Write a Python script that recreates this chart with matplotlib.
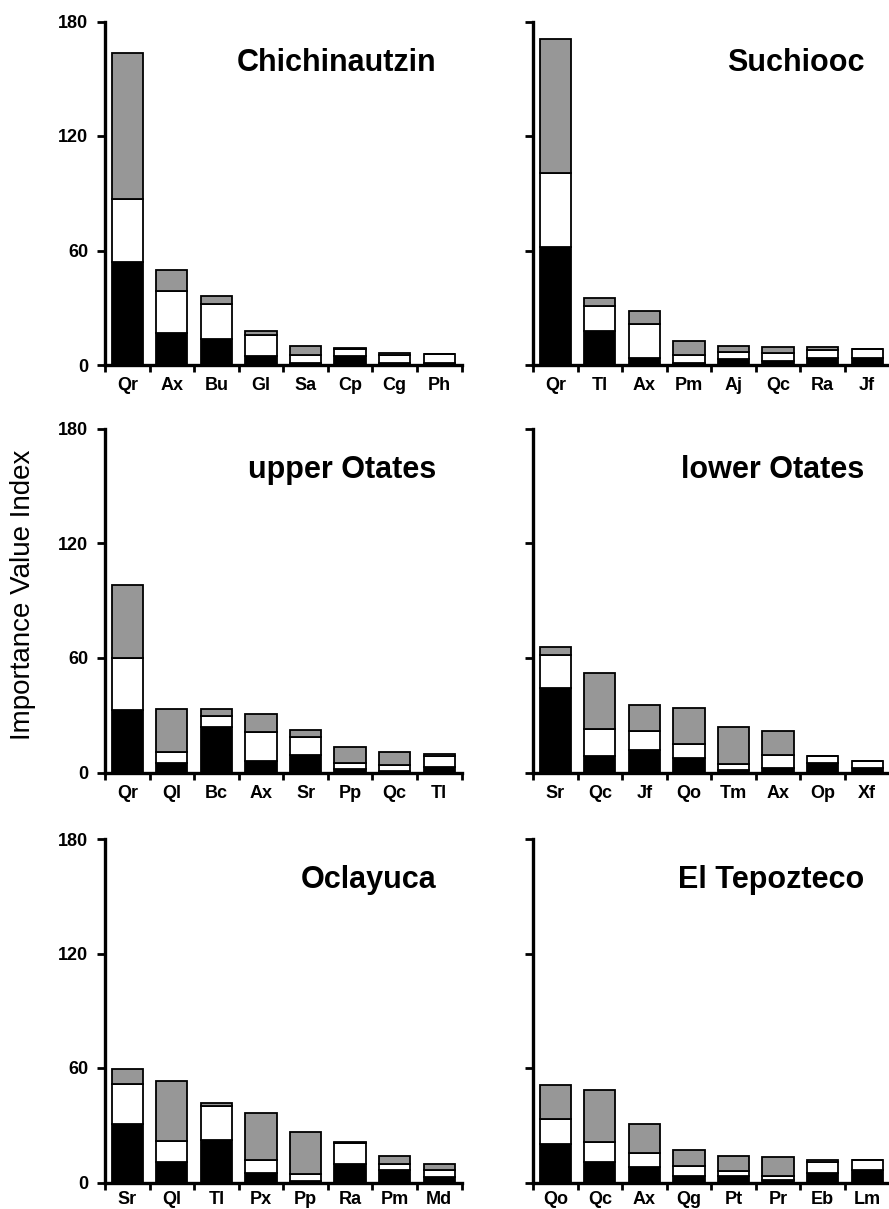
import matplotlib
matplotlib.use("Agg")
import matplotlib.pyplot as plt
import numpy as np

plt.rcParams["font.family"] = ["Liberation Sans", "DejaVu Sans"]

# site names (panel order: left/right, top to bottom)
sites = ["Chichinautzin", "Suchiooc", "upper Otates", "lower Otates", "Oclayuca", "El Tepozteco"]

species = [
    ["Qr", "Ax", "Bu", "Gl", "Sa", "Cp", "Cg", "Ph"],
    ["Qr", "Tl", "Ax", "Pm", "Aj", "Qc", "Ra", "Jf"],
    ["Qr", "Ql", "Bc", "Ax", "Sr", "Pp", "Qc", "Tl"],
    ["Sr", "Qc", "Jf", "Qo", "Tm", "Ax", "Op", "Xf"],
    ["Sr", "Ql", "Tl", "Px", "Pp", "Ra", "Pm", "Md"],
    ["Qo", "Qc", "Ax", "Qg", "Pt", "Pr", "Eb", "Lm"],
]

# three stacked components of the IVI (black bottom, white middle, gray top)
black = [
    [53.8, 17.0, 13.5, 4.7, 1.2, 4.7, 1.2, 1.2],
    [61.7, 18.0, 3.5, 1.0, 3.0, 1.9, 3.5, 3.5],
    [32.6, 5.1, 23.9, 6.1, 9.4, 1.9, 0.9, 3.0],
    [44.2, 8.7, 11.7, 7.7, 1.2, 2.1, 5.2, 2.4],
    [30.4, 10.8, 22.5, 5.2, 0.9, 9.6, 6.5, 3.0],
    [20.4, 10.8, 8.0, 3.5, 3.5, 1.2, 5.2, 6.5],
]
white = [
    [33.1, 21.8, 18.3, 10.9, 3.9, 3.9, 3.9, 4.4],
    [38.8, 13.1, 17.8, 4.1, 3.8, 4.2, 4.4, 4.7],
    [27.6, 5.7, 5.8, 15.2, 9.3, 3.2, 2.8, 5.6],
    [17.4, 14.3, 10.1, 7.0, 3.0, 7.1, 3.2, 3.4],
    [21.1, 10.8, 17.5, 6.8, 3.8, 11.2, 3.4, 3.8],
    [13.1, 10.3, 7.7, 5.4, 2.6, 2.1, 5.4, 5.2],
]
gray = [
    [76.6, 11.0, 4.4, 2.2, 4.9, 0.3, 1.0, 0.0],
    [70.3, 3.9, 7.0, 7.7, 3.2, 3.3, 1.5, 0.0],
    [37.9, 22.7, 3.8, 9.6, 3.8, 8.3, 7.1, 1.3],
    [4.0, 29.4, 13.5, 19.3, 19.4, 12.6, 0.0, 0.0],
    [7.8, 31.6, 1.5, 24.5, 21.8, 0.3, 3.9, 3.1],
    [17.5, 27.6, 14.8, 8.2, 7.7, 10.0, 1.4, 0.0],
]

yticks = [0, 60, 120, 180]

W, H = 889, 1209
fig = plt.figure(figsize=(W / 100, H / 100), dpi=100)

lefts = [105, 533]
zeros = [365, 772.5, 1182.5]
ax_w = 356.5
ax_h = 343.5

for i, site in enumerate(sites):
    col, row = i % 2, i // 2
    x0 = lefts[col] / W
    y0 = (H - zeros[row]) / H
    ax = fig.add_axes([x0, y0, ax_w / W, ax_h / H])

    x = np.arange(len(species[i]))
    b = np.array(black[i])
    w = np.array(white[i])
    g = np.array(gray[i])
    kw = dict(width=0.7, edgecolor="black", linewidth=1.3, zorder=3)
    ax.bar(x, b, color="black", **kw)
    ax.bar(x, w, bottom=b, color="white", **kw)
    ax.bar(x, g, bottom=b + w, color="#979797", **kw)

    ax.set_xlim(-0.5, len(x) - 0.5)
    ax.set_ylim(0, 180)
    ax.set_yticks(yticks)
    if col == 0:
        ax.set_yticklabels([str(t) for t in yticks], fontsize=13, fontweight="bold")
    else:
        ax.set_yticklabels([])

    # ticks sit between categories, labels centred under bars
    ax.set_xticks(np.arange(len(x) + 1) - 0.5)
    ax.set_xticklabels([])
    ax.set_xticks(x, minor=True)
    ax.set_xticklabels(species[i], minor=True, fontsize=13, fontweight="bold")
    pad = 6 if row == 2 else 9
    ax.tick_params(axis="x", which="minor", length=0, pad=pad)
    ax.tick_params(axis="x", which="major", direction="out", length=5, width=2)
    ax.tick_params(axis="y", direction="out", length=6, width=2, pad=6)

    for s in ["top", "right"]:
        ax.spines[s].set_visible(False)
    for s in ["left", "bottom"]:
        ax.spines[s].set_linewidth(2.4)

    ax.text(0.93, 0.88, site, transform=ax.transAxes, ha="right", va="center",
            fontsize=22, fontweight="bold")

fig.text(23 / W, 1 - 595 / H, "Importance Value Index", rotation=90,
         ha="center", va="center", fontsize=20)

fig.savefig("out.png", dpi=100)
